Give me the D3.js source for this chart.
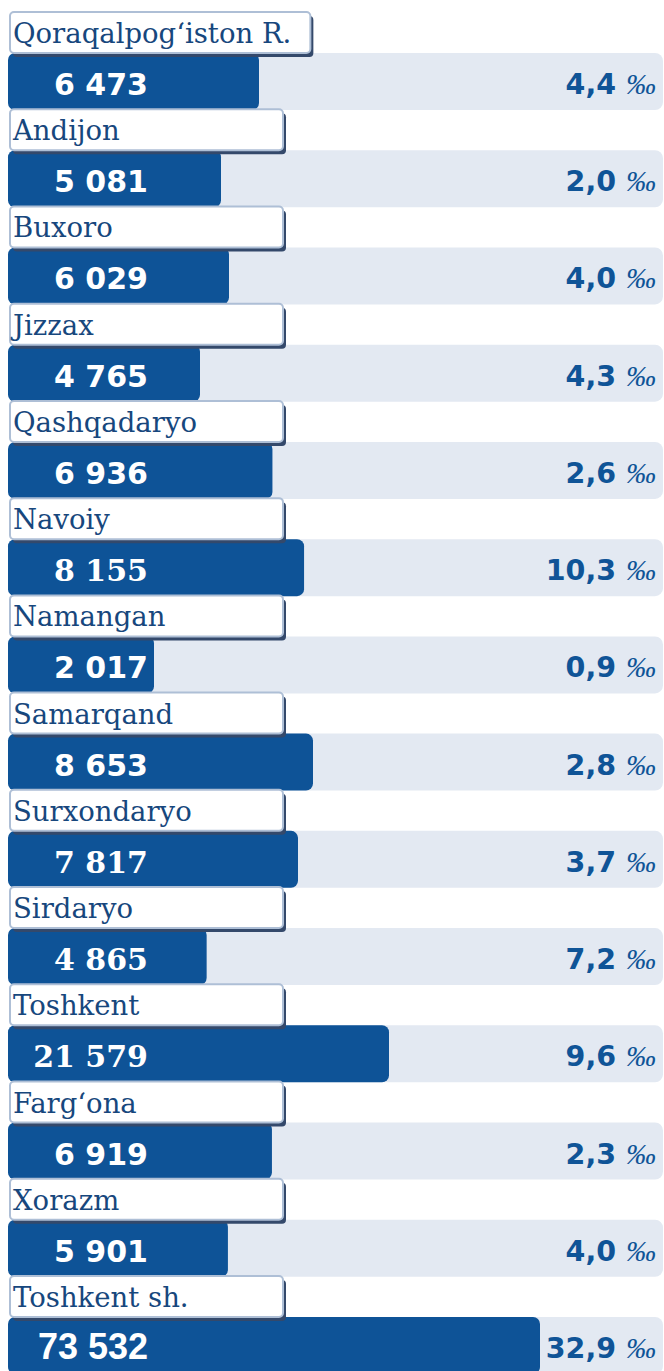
<!DOCTYPE html>
<html>
<head>
<meta charset="utf-8">
<script src="https://cdn.jsdelivr.net/npm/d3@7"></script>
<style>
  html, body { margin: 0; padding: 0; background: #ffffff; }
  svg { display: block; }
</style>
</head>
<body>
<svg id="chart" width="664" height="1371"></svg>
<script>
// Regions of Uzbekistan
const regions = [
  "Qoraqalpog‘iston R.", "Andijon", "Buxoro", "Jizzax", "Qashqadaryo",
  "Navoiy", "Namangan", "Samarqand", "Surxondaryo", "Sirdaryo",
  "Toshkent", "Farg‘ona", "Xorazm", "Toshkent sh."
];
// Absolute values per region
const values = [6473, 5081, 6029, 4765, 6936, 8155, 2017, 8653, 7817, 4865, 21579, 6919, 5901, 73532];
// Per-mille shares per region
const permille = ["4,4", "2,0", "4,0", "4,3", "2,6", "10,3", "0,9", "2,8", "3,7", "7,2", "9,6", "2,3", "4,0", "32,9"];

// Value-label typeface per row (default is the bold sans)
const valueFontOverride = {
  "Navoiy": "serif", "Surxondaryo": "serif", "Sirdaryo": "serif", "Toshkent": "serif",
  "Toshkent sh.": "narrow"
};

const W = 664, H = 1371;
const svg = d3.select("#chart");

const barX = 8;
const rowTop0 = 53, rowPitch = 97.23, bandH = 57;

// Row position scale
const y = d3.scaleLinear().domain([0, regions.length - 1])
  .range([rowTop0, rowTop0 + rowPitch * (regions.length - 1)]);

// Bar length scale: compressed, piecewise-linear
const x = d3.scaleLinear()
  .domain([2017, 4765, 5081, 6029, 6473, 7817, 8653, 21579, 73532])
  .range([146, 192, 213, 221, 251, 290, 305, 381, 532])
  .clamp(true);

const fmt = v => d3.format(",")(v).replace(/,/g, " ");

const C = {
  bar: "#0e5397",
  band: "#e3e9f2",
  label: "#17477d",
  pct: "#0f5497",
  boxStroke: "#aebfd6",
  shadow: "#34496b"
};

const rows = svg.selectAll("g.row")
  .data(regions.map((r, i) => ({ region: r, value: values[i], pm: permille[i], i })))
  .join("g").attr("class", "row");

// Background band
rows.append("rect")
  .attr("x", barX).attr("y", d => y(d.i))
  .attr("width", W - 1 - barX).attr("height", bandH)
  .attr("rx", 8).attr("fill", C.band);

// Value bar
rows.append("rect")
  .attr("x", barX).attr("y", d => y(d.i))
  .attr("width", d => x(d.value)).attr("height", bandH)
  .attr("rx", 7).attr("fill", C.bar);

// Value text
rows.append("text")
  .attr("x", 148).attr("y", d => y(d.i) + 42)
  .attr("text-anchor", "end")
  .attr("fill", "#ffffff")
  .attr("font-weight", "bold")
  .style("font-family", d => {
    const f = valueFontOverride[d.region];
    if (f === "serif") return "'DejaVu Serif', 'Liberation Serif', serif";
    if (f === "narrow") return "'Liberation Sans', Arial, sans-serif";
    return "'DejaVu Sans', Verdana, sans-serif";
  })
  .attr("font-size", d => valueFontOverride[d.region] === "narrow" ? 36 : 30)
  .text(d => fmt(d.value));

// Per-mille text
const pt = rows.append("text")
  .attr("x", 656).attr("y", d => y(d.i) + 41)
  .attr("text-anchor", "end")
  .attr("fill", C.pct);
pt.append("tspan")
  .style("font-family", "'DejaVu Sans', Verdana, sans-serif")
  .attr("font-weight", "bold")
  .attr("font-size", 28.5)
  .text(d => d.pm + " ");
pt.append("tspan")
  .style("font-family", "'Liberation Serif', 'Times New Roman', serif")
  .attr("font-style", "italic")
  .attr("font-size", 30)
  .text("‰");

// Region label boxes
const lab = svg.selectAll("g.lab")
  .data(regions.map((r, i) => ({ region: r, i })))
  .join("g").attr("class", "lab");

const shadowR = lab.append("rect");
const boxR = lab.append("rect");
const labT = lab.append("text")
  .attr("x", 13).attr("y", d => y(d.i) - 10)
  .attr("fill", C.label)
  .style("font-family", "'DejaVu Serif', 'Liberation Serif', serif")
  .attr("font-size", 27.5)
  .text(d => d.region);

labT.each(function (d) {
  d.bw = Math.max(273, this.getComputedTextLength() + 22);
});

shadowR
  .attr("x", 13).attr("y", d => y(d.i) - 37)
  .attr("width", d => d.bw).attr("height", 41)
  .attr("rx", 4).attr("fill", C.shadow);
boxR
  .attr("x", 10).attr("y", d => y(d.i) - 41)
  .attr("width", d => d.bw).attr("height", 41)
  .attr("rx", 4).attr("fill", "#ffffff")
  .attr("stroke", C.boxStroke).attr("stroke-width", 2);
</script>
</body>
</html>
